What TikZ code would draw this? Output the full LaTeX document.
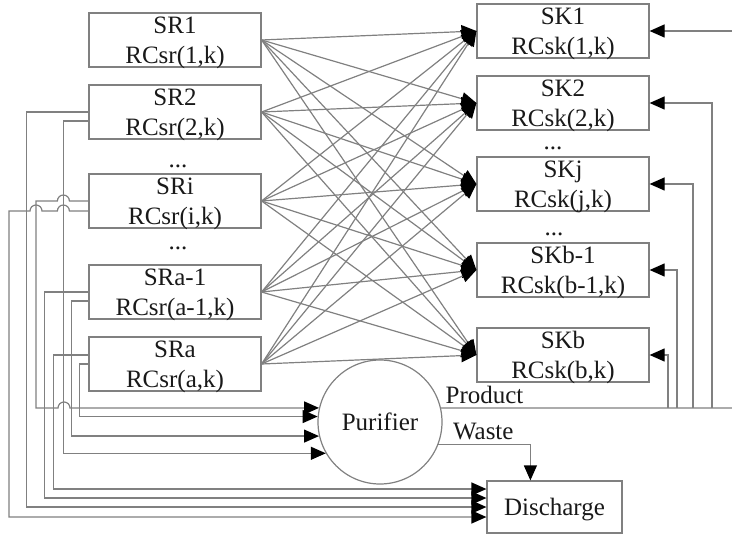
\documentclass[tikz,border=0pt]{standalone}
\usepackage{fontspec}
\setmainfont{Liberation Serif}
\usetikzlibrary{arrows.meta}

\begin{document}
\begin{tikzpicture}[x=0.5pt, y=-0.5pt,
		box/.style={draw=black!50, line width=0.6pt, minimum width=86pt, minimum height=27pt, inner sep=0pt, text depth=0pt, align=center, font=\fontsize{12.5}{15}\selectfont, text=black!90},
		dotlbl/.style={anchor=base, inner sep=0pt, font=\fontsize{12.5}{15}\selectfont, text=black!90},
		pipe/.style={draw=black!50, line width=0.6pt},
		arr/.style={pipe, -{Triangle[length=7.5pt, width=6.5pt, color=black]}}]
		\useasboundingbox (0,0) rectangle (732,539);
		
		% sources
		\node[box] (sr1) at (175,40) {SR1\\RCsr(1,k)};
		\node[box] (sr2) at (175,112) {SR2\\RCsr(2,k)};
		\node[box] (sri) at (175,201) {SRi\\RCsr(i,k)};
		\node[box] (sram) at (175,292) {SRa-1\\RCsr(a-1,k)};
		\node[box] (sra) at (175,364) {SRa\\RCsr(a,k)};
		\node[dotlbl] (srdots1) at (178,168) {...};
		\node[dotlbl] (srdots2) at (178,250) {...};
		
		% sinks
		\node[box] (sk1) at (563,31) {SK1\\RCsk(1,k)};
		\node[box] (sk2) at (563,103) {SK2\\RCsk(2,k)};
		\node[box] (skj) at (563,184) {SKj\\RCsk(j,k)};
		\node[box] (skbm) at (563,270) {SKb-1\\RCsk(b-1,k)};
		\node[box] (skb) at (563,355) {SKb\\RCsk(b,k)};
		\node[dotlbl] (skdots1) at (553,150) {...};
		\node[dotlbl] (skdots2) at (554,236) {...};
		
		\node[circle, pipe, minimum size=62pt, inner sep=0pt, font=\fontsize{12.5}{15}\selectfont, text=black!90] (pur) at (380,422) {Purifier};
		\node[box, minimum width=67.5pt, minimum height=26pt] (dis) at (554.5,507) {Discharge};
		
		% every source to every sink
		\foreach \s in {sr1,sr2,sri,sram,sra}
			\foreach \k in {sk1,sk2,skj,skbm,skb}
				\draw[arr] (\s.east) -- (\k.west);
		
		% to the purifier
		\draw[arr] (sri.west) -- ++(-19,0) arc (0:180:3pt) -- (36,201) |- (58,408) arc (180:0:3pt) -- (pur.167);
		\draw[arr] (sra.west) -- ++(-9,0) |- (pur.175);
		\draw[arr] ([yshift=-4.5pt]sram.west) -- ++(-17,0) |- (pur.193);
		\draw[arr] ([yshift=-4.5pt]sr2.west) -- ++(-25,0) |- (pur.210);
		
		% to discharge
		\draw[arr] ([yshift=4.5pt]sra.west) -- ++(-35,0) |- ([yshift=9pt]dis.west);
		\draw[arr] (sram.west) -- ++(-44,0) |- ([yshift=4.5pt]dis.west);
		\draw[arr] (sr2.west) -- ++(-62,0) |- (dis.west);
		\draw[arr] ([yshift=-5pt]sri.west) -- ++(-19,0) arc (0:180:3pt) -- (42,211) arc (0:180:3pt) -- (9,211) |- ([yshift=-5pt]dis.west);
		
		% product back to the sinks
		\coordinate (out) at (732,408);
		\draw[pipe] (pur.13) -- (out) node[pos=0, anchor=south west, inner sep=2pt, font=\fontsize{12.5}{15}\selectfont, text=black!90] (prodtext) {Product};
		\foreach \k/\x in {sk2/712, skj/693, skbm/677, skb/668}
			\draw[arr] (out -| \x,0) |- (\k.east);
		\draw[arr] (sk1.east -| out) -- (sk1.east);
		
		\draw[arr] (pur.339) -| ([xshift=22pt]dis.north west) node[pos=0, anchor=south west, xshift=5pt, inner sep=2pt, font=\fontsize{12.5}{15}\selectfont, text=black!90] (wastetext) {Waste};
	\end{tikzpicture}
\end{document}
